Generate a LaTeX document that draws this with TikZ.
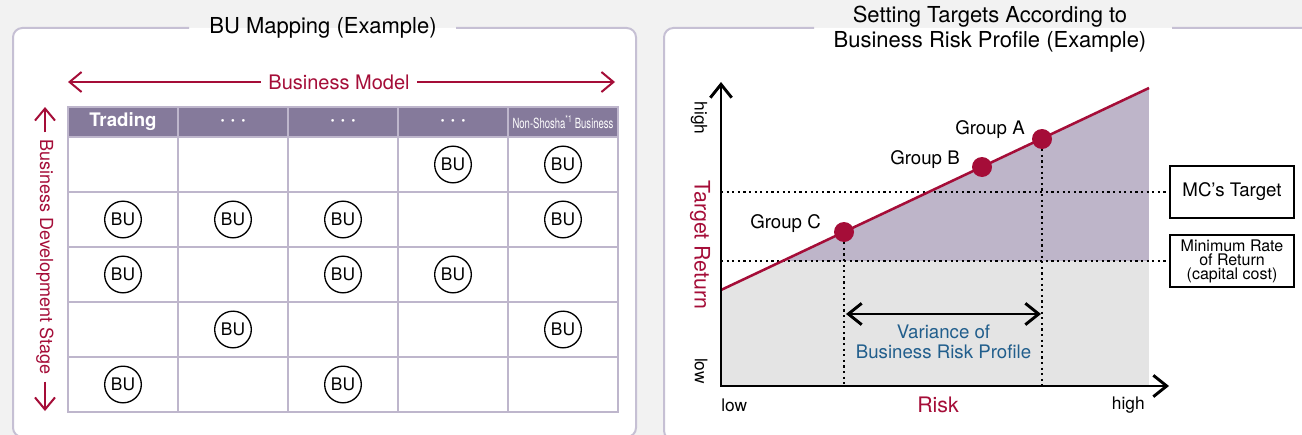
\documentclass[tikz,border=0pt]{standalone}
\usepackage{fontspec}
\setmainfont{TeX Gyre Heros}
\usepackage{graphicx}
\usetikzlibrary{
  arrows.meta,
  positioning
}
\definecolor{pagegray}{HTML}{F2F2F2}
\definecolor{framecol}{HTML}{C6C0D4}
\definecolor{headcol}{HTML}{857A9B}
\definecolor{gridcol}{HTML}{BEB6CC}
\definecolor{accent}{HTML}{A50D38}
\definecolor{zonepurple}{HTML}{BEB5C9}
\definecolor{zonegray}{HTML}{E4E4E4}
\definecolor{noteblue}{HTML}{215E8C}
\newcommand{\sizept}[1]{\fontsize{#1}{#1}\selectfont}
\tikzset{
  panel/.style={draw=framecol, line width=1.5pt, rounded corners=7pt},
  paneltitle/.style={align=center, inner sep=0pt},
  cell/.style={draw=gridcol, line width=1.5pt, minimum width=82.5pt,
    minimum height=41.25pt, inner sep=0pt},
  headcell/.style={cell, fill=headcol, minimum height=22.5pt, text=white,
    font=\sizept{14}},
  bu/.style={circle, draw, line width=1pt, minimum size=27.5pt, inner sep=0pt,
    font=\sizept{13}},
  barbs/.style={line width=1.5pt, -{Straight Barb[length=9pt, width=15pt]}},
  axis/.style={line width=2.2pt,
    {Straight Barb[length=10pt, width=16pt]}-{Straight Barb[length=10pt, width=16pt]}},
  dots/.style={line width=1.6pt, dash pattern=on 1.6pt off 2.6pt},
  group/.style={circle, fill=accent, minimum size=15pt, inner sep=0pt},
  glabel/.style={font=\sizept{14}, anchor=east, inner sep=0pt},
  tick/.style={font=\sizept{13}, inner sep=0pt},
  legend/.style={draw, line width=0.8pt, fill=white, minimum width=93pt,
    minimum height=39pt, align=center, inner sep=0pt},
}

\begin{document}
\begin{tikzpicture}[x=0.75pt, y=-0.75pt]
  \useasboundingbox (0,0) rectangle (1302,435);
  \fill[pagegray] (0,0) rectangle (1302,435);
  \clip (0,0) rectangle (1302,435);

  % left panel: BU map
  \fill[white, rounded corners=7pt] (13,28) rectangle (636,437);
  \draw[panel] (456,28) -- (636,28) -- (636,437) -- (13,437) -- (13,28) -- (189,28);
  \node (ltitle) [paneltitle, font=\sizept{16.5}] at (323,28) {BU Mapping (Example)};

  \node (bm) [text=accent, font=\sizept{15}, inner xsep=5.5pt] at (339,82) {Business Model};
  \coordinate (bmL) at (68,82);
  \coordinate (bmR) at (615,82);
  \draw[barbs, accent] (bm.west) -- (bmL);
  \draw[barbs, accent] (bm.east) -- (bmR);

  \node (bds) [rotate=-90, text=accent, font=\sizept{13.5}, inner xsep=5pt] at (45,257)
    {Business Development Stage};
  \coordinate (bdsTop) at (45,107);
  \coordinate (bdsBot) at (45,411);
  \draw[barbs, accent] (bds.west) -- (bdsTop);
  \draw[barbs, accent] (bds.east) -- (bdsBot);

  \foreach \r in {1,...,5}
    \foreach \c in {1,...,5}
      \node (cell-\r-\c) [cell] at ({123+110*(\c-1)}, {164.5+55*(\r-1)}) {};
  \foreach \c/\txt in {1/{\textbf{Trading}}, 2/{\textbf{· · ·}}, 3/{\textbf{· · ·}},
      4/{\textbf{· · ·}},
      5/{\scalebox{0.68}[1]{\sizept{10.5}Non-Shosha\textsuperscript{*1} Business}}}
    \node (head-\c) [headcell] at ({123+110*(\c-1)}, 122) {\txt};
  \foreach \r/\c in {1/4, 1/5, 2/1, 2/2, 2/3, 2/5, 3/1, 3/3, 3/4, 4/2, 4/5, 5/1, 5/3}
    \node (bu-\r-\c) [bu] at (cell-\r-\c) {BU};

  % right panel: target return vs risk
  \fill[white, rounded corners=7pt] (664,28) rectangle (1320,440);
  \draw[panel] (1172,28) -- (1320,28) -- (1320,440) -- (664,440) -- (664,28) -- (814,28);
  \node (rtitle) [paneltitle, font=\fontsize{16.5}{19}\selectfont] at (990,29)
    {Setting Targets According to\\Business Risk Profile (Example)};

  \coordinate (O) at (721,386);
  \coordinate (ytop) at (721,82);
  \coordinate (xend) at (1169,386);
  \coordinate (lineL) at (721,290);
  \coordinate (lineR) at (1149,88);

  \begin{scope}
    \clip (lineL) -- (lineR) -- (1149,386) -- (O) -- cycle;
    \fill[zonegray] (721,82) rectangle (1149,386);
    \fill[zonepurple] (721,82) rectangle (1149,261);
  \end{scope}

  \node (mc) [legend, font=\sizept{14}] at (1232,192) {MC’s Target};
  \node (minrate) [legend, font=\fontsize{12}{10.5}\selectfont] at (1232,261)
    {Minimum Rate\\of Return\\(capital cost)};
  \draw[dots] (mc.west -| O) -- (mc.west);
  \draw[dots] (minrate.west -| O) -- (minrate.west);

  \draw[accent, line width=1.9pt] (lineL) -- (lineR);
  \node (gA) [group] at (1042,139) {};
  \node (gB) [group] at (982,167) {};
  \node (gC) [group] at (844,232) {};
  \node (labA) [glabel] at ([shift={(-17,-9)}]gA) {Group A};
  \node (labB) [glabel] at ([shift={(-22,-7)}]gB) {Group B};
  \node (labC) [glabel] at ([shift={(-23,-8)}]gC) {Group C};
  \draw[dots] (gC) -- (gC |- O);
  \draw[dots] (gA) -- (gA |- O);

  \coordinate (vL) at (846,314);
  \coordinate (vR) at (1041,314);
  \draw[line width=2.2pt,
    {Straight Barb[length=10pt, width=16pt]}-{Straight Barb[length=10pt, width=16pt]}]
    (vL) -- coordinate (vmid) (vR);
  \node (variance) [below=8pt of vmid, inner sep=0pt, text=noteblue, align=center,
    font=\fontsize{14}{15}\selectfont] {Variance of\\Business Risk Profile};

  \draw[axis] (ytop) -- (O) -- (xend);

  \node (yhigh) [tick, rotate=-90] at (699,118) {high};
  \node (ylow) [tick, rotate=-90] at (701,371) {low};
  \node (ret) [rotate=-90, text=accent, font=\sizept{16}, inner sep=0pt] at (700,245)
    {Target Return};
  \node (xlow) [tick, anchor=west] at (721,405) {low};
  \node (risk) [text=accent, font=\sizept{16}, inner sep=0pt] at (938,405) {Risk};
  \node (xhigh) [tick, anchor=east] at (1145,405) {high};
\end{tikzpicture}
\end{document}
